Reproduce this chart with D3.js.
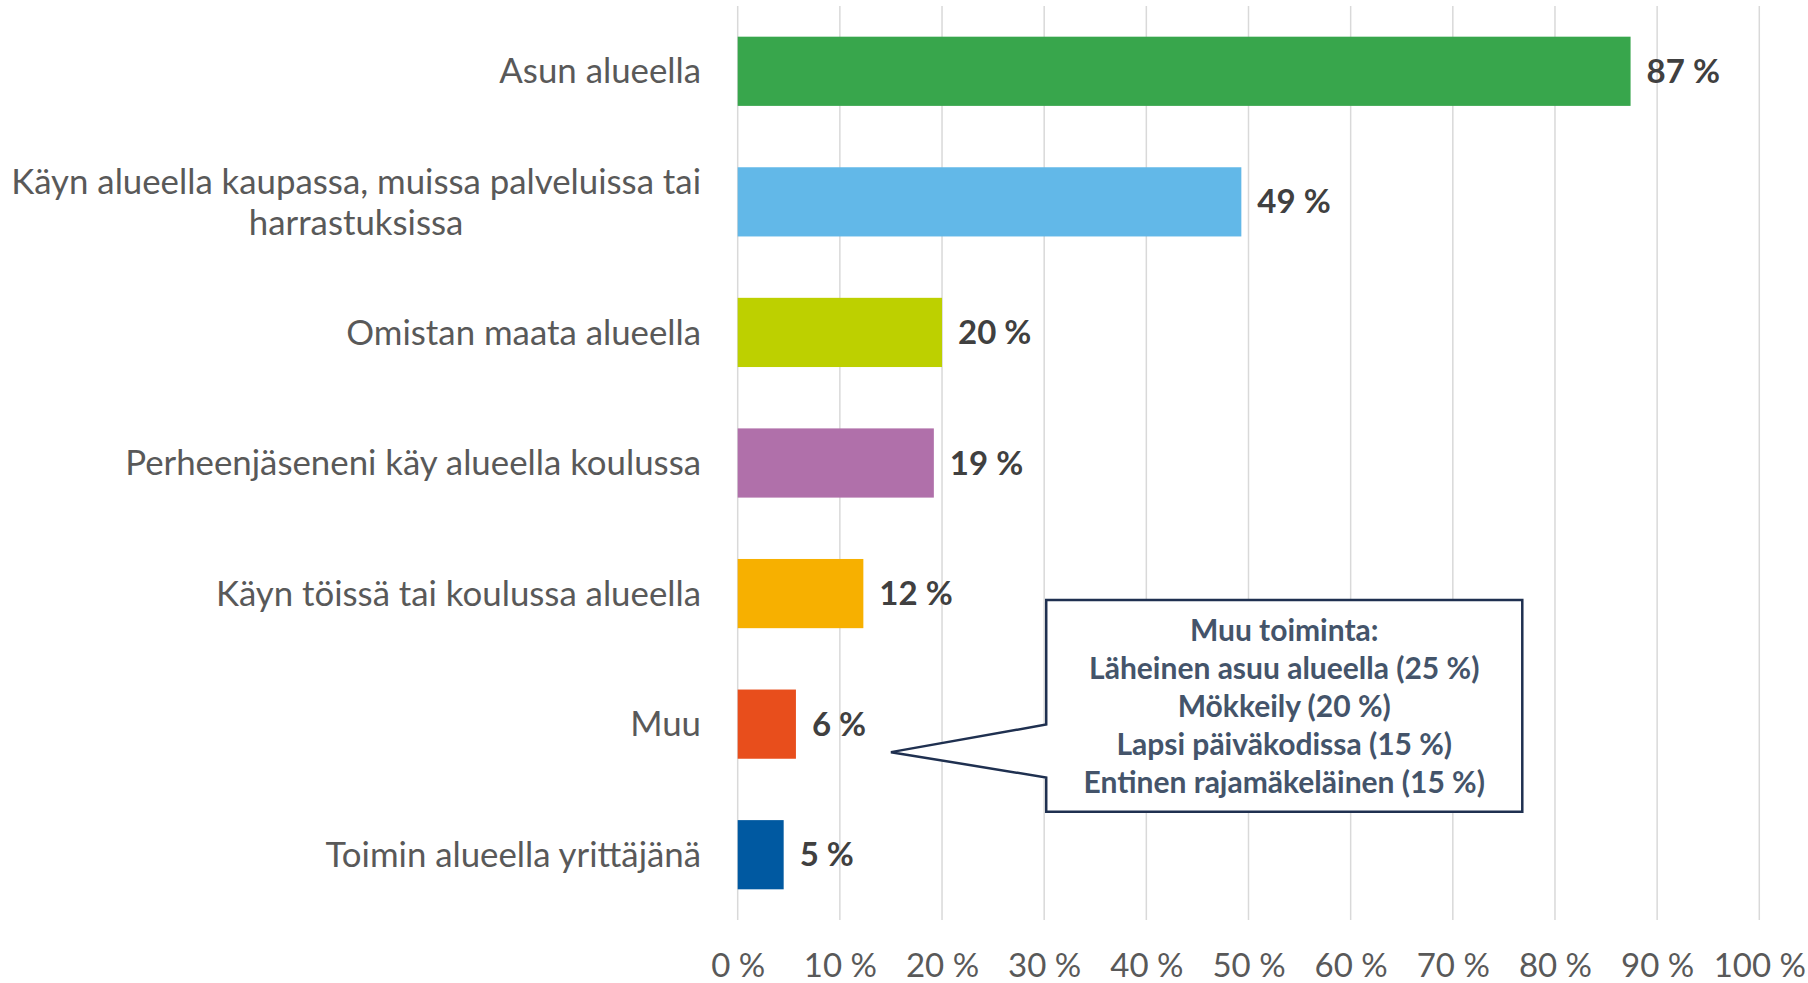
<!DOCTYPE html>
<html>
<head>
<meta charset="utf-8">
<script src="https://cdn.jsdelivr.net/npm/d3@7"></script>
<style>
  body { margin: 0; background: #fff; }
  svg text { font-family: Lato, "Open Sans", sans-serif; }
</style>
</head>
<body>
<div id="chart"></div>
<script>
const categories = [
  "Asun alueella",
  "Käyn alueella kaupassa, muissa palveluissa tai harrastuksissa",
  "Omistan maata alueella",
  "Perheenjäseneni käy alueella koulussa",
  "Käyn töissä tai koulussa alueella",
  "Muu",
  "Toimin alueella yrittäjänä"
];
const values = [87.4, 49.3, 20.0, 19.2, 12.3, 5.7, 4.5];
const colors = ["#38a64c", "#62b8e8", "#bdd000", "#b070aa", "#f7b000", "#e84e1c", "#0059a1"];
const ticks = [0, 10, 20, 30, 40, 50, 60, 70, 80, 90, 100];
const calloutTitle = "Muu toiminta:";
const calloutLines = [
  "Läheinen asuu alueella (25 %)",
  "Mökkeily (20 %)",
  "Lapsi päiväkodissa (15 %)",
  "Entinen rajamäkeläinen (15 %)"
];

const width = 1808;
const height = 983;
const margin = { top: 6, right: 48.7, bottom: 63, left: 737.7 };

const svg = d3.select("#chart")
  .append("svg")
  .attr("width", width)
  .attr("height", height);

const x = d3.scaleLinear()
  .domain([0, 100])
  .range([margin.left, width - margin.right]);

const y = d3.scaleBand()
  .domain(categories)
  .range([margin.top, height - margin.bottom])
  .paddingInner(0.47)
  .paddingOuter(0.235);

// gridlines
svg.append("g")
  .selectAll("line")
  .data(ticks)
  .enter()
  .append("line")
  .attr("x1", d => x(d))
  .attr("x2", d => x(d))
  .attr("y1", margin.top)
  .attr("y2", height - margin.bottom)
  .style("stroke", "#d9d9d9")
  .style("stroke-width", 1.5);

// x axis labels
const xAxis = d3.axisBottom(x)
  .tickValues(ticks)
  .tickSize(0)
  .tickPadding(0)
  .tickFormat(d => d + " %");

svg.append("g")
  .attr("transform", `translate(0,${height - 17})`)
  .call(xAxis)
  .call(g => g.select(".domain").remove())
  .selectAll("text")
  .attr("dy", "0.32em")
  .attr("y", 0)
  .style("font-family", "Lato, sans-serif")
  .style("font-size", "33px")
  .style("fill", "#595959");

// bars
svg.append("g")
  .selectAll("rect")
  .data(values)
  .enter()
  .append("rect")
  .attr("x", x(0))
  .attr("y", (d, i) => y(categories[i]))
  .attr("width", d => x(d) - x(0))
  .attr("height", y.bandwidth())
  .style("fill", (d, i) => colors[i]);

// value labels
svg.append("g")
  .selectAll("text")
  .data(values)
  .enter()
  .append("text")
  .attr("x", d => x(d) + 16)
  .attr("y", (d, i) => y(categories[i]) + y.bandwidth() / 2)
  .attr("dy", "0.35em")
  .style("font-size", "33px")
  .style("font-weight", "bold")
  .style("fill", "#404040")
  .text(d => Math.round(d) + " %");

// category labels, wrapped
const catLabels = svg.append("g")
  .selectAll("text")
  .data(categories)
  .enter()
  .append("text")
  .attr("text-anchor", "end")
  .style("font-size", "34.8px")
  .style("fill", "#595959");

catLabels.each(function(d) {
  const el = d3.select(this);
  const words = d.split(" ");
  const maxW = 705;
  let lines = [];
  let line = [];
  const probe = el.append("tspan");
  words.forEach(w => {
    line.push(w);
    probe.text(line.join(" "));
    if (probe.node().getComputedTextLength() > maxW && line.length > 1) {
      line.pop();
      lines.push(line.join(" "));
      line = [w];
    }
  });
  lines.push(line.join(" "));
  probe.remove();

  const lh = 41;
  const cy = y(d) + y.bandwidth() / 2;
  lines.forEach((l, i) => {
    el.append("tspan")
      .attr("x", 701)
      .attr("y", cy + (i - (lines.length - 1) / 2) * lh)
      .attr("dy", "0.35em")
      .attr("text-anchor", lines.length > 1 ? "middle" : "end")
      .text(l);
  });
  if (lines.length > 1) {
    // centred block, right edge at 701
    let w = 0;
    el.selectAll("tspan").each(function() { w = Math.max(w, this.getComputedTextLength()); });
    el.selectAll("tspan").attr("x", 701 - w / 2);
  }
});

// callout
const muuTop = y("Muu");
const bx0 = x(30.2), bx1 = x(76.8);
const by0 = muuTop - 89.5, by1 = muuTop + y.bandwidth() + 53;
const tipX = x(15), tipY = muuTop + 62.6;
const notch0 = muuTop + 35, notch1 = muuTop + 88;

svg.append("path")
  .attr("d", [
    "M", bx0, by0,
    "L", bx1, by0,
    "L", bx1, by1,
    "L", bx0, by1,
    "L", bx0, notch1,
    "L", tipX, tipY,
    "L", bx0, notch0,
    "Z"
  ].join(" "))
  .style("fill", "#fff")
  .style("stroke", "#1f3050")
  .style("stroke-width", 2.5);

const cx = (bx0 + bx1) / 2;
svg.append("g")
  .selectAll("text")
  .data([calloutTitle].concat(calloutLines))
  .enter()
  .append("text")
  .attr("x", cx)
  .attr("y", (d, i) => by0 + 30 + i * 38.1)
  .attr("dy", "0.35em")
  .attr("text-anchor", "middle")
  .style("font-size", "30px")
  .style("font-weight", "bold")
  .style("fill", "#44546a")
  .text(d => d);
</script>
</body>
</html>
